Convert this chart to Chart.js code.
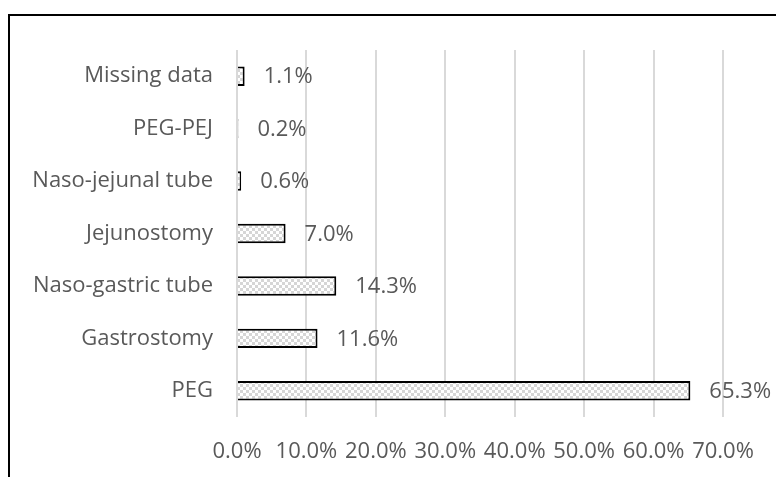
<!DOCTYPE html>
<html>
<head>
<meta charset="utf-8">
<script src="https://cdn.jsdelivr.net/npm/chart.js@4"></script>
<style>
  html, body { margin: 0; padding: 0; background: #fff; overflow: hidden; }
  #wrap { position: relative; width: 776px; height: 477px; }
  #frame { position: absolute; left: 8px; top: 14px; width: 900px; height: 600px; border: 2px solid #000; box-sizing: border-box; }
  canvas { position: absolute; left: 0; top: 0; }
</style>
</head>
<body>
<div id="wrap">
  <div id="frame"></div>
  <canvas id="feedChart" width="776" height="477"></canvas>
</div>
<script>
// categories, top to bottom
const categories = ['Missing data', 'PEG-PEJ', 'Naso-jejunal tube', 'Jejunostomy', 'Naso-gastric tube', 'Gastrostomy', 'PEG'];
const percentValues = [1.1, 0.2, 0.6, 7.0, 14.3, 11.6, 65.3];
const tickValues = [0, 10, 20, 30, 40, 50, 60, 70];

// small checkered fill like the Excel pattern
function makePattern() {
    const c = document.createElement('canvas');
    c.width = 6; c.height = 6;
    const g = c.getContext('2d');
    g.fillStyle = '#ffffff';
    g.fillRect(0, 0, 6, 6);
    g.fillStyle = '#d6d6d6';
    g.fillRect(0, 0, 3, 3);
    g.fillRect(3, 3, 3, 3);
    return g.createPattern(c, 'repeat');
}

// value labels at the end of each bar
const barLabels = {
    id: 'barLabels',
    afterDatasetsDraw(chart) {
        const ctx = chart.ctx;
        const meta = chart.getDatasetMeta(0);
        ctx.save();
        ctx.font = '22px "Open Sans"';
        ctx.fillStyle = '#595959';
        ctx.textAlign = 'left';
        ctx.textBaseline = 'middle';
        meta.data.forEach((bar, i) => {
            ctx.fillText(percentValues[i].toFixed(1) + '%', bar.x + 19, bar.y + 1);
        });
        ctx.restore();
    }
};

const ctx = document.getElementById('feedChart').getContext('2d');
new Chart(ctx, {
    type: 'bar',
    data: {
        labels: categories,
        datasets: [{
            data: percentValues,
            backgroundColor: makePattern(),
            borderColor: '#000000',
            borderWidth: 2,
            barPercentage: 0.37,
            categoryPercentage: 1
        }]
    },
    options: {
        indexAxis: 'y',
        responsive: false,
        animation: false,
        layout: { padding: { top: 50, right: 53, bottom: 0, left: 0 } },
        plugins: { legend: { display: false }, tooltip: { enabled: false } },
        scales: {
            x: {
                min: 0,
                max: 70,
                afterBuildTicks(scale) {
                    scale.ticks = tickValues.map(v => ({ value: v }));
                },
                afterFit(scale) { scale.height = 60; },
                grid: { color: '#d9d9d9', lineWidth: 2, drawTicks: false },
                border: { display: false },
                ticks: {
                    autoSkip: false,
                    maxRotation: 0,
                    padding: 22,
                    color: '#595959',
                    font: { family: 'Open Sans', size: 22 },
                    callback: v => v.toFixed(1) + '%'
                }
            },
            y: {
                afterFit(scale) { scale.width = 237; },
                grid: { display: false },
                border: { display: false },
                ticks: {
                    padding: 16,
                    color: '#595959',
                    font: { family: 'Open Sans', size: 22 }
                }
            }
        }
    },
    plugins: [barLabels]
});
</script>
</body>
</html>
